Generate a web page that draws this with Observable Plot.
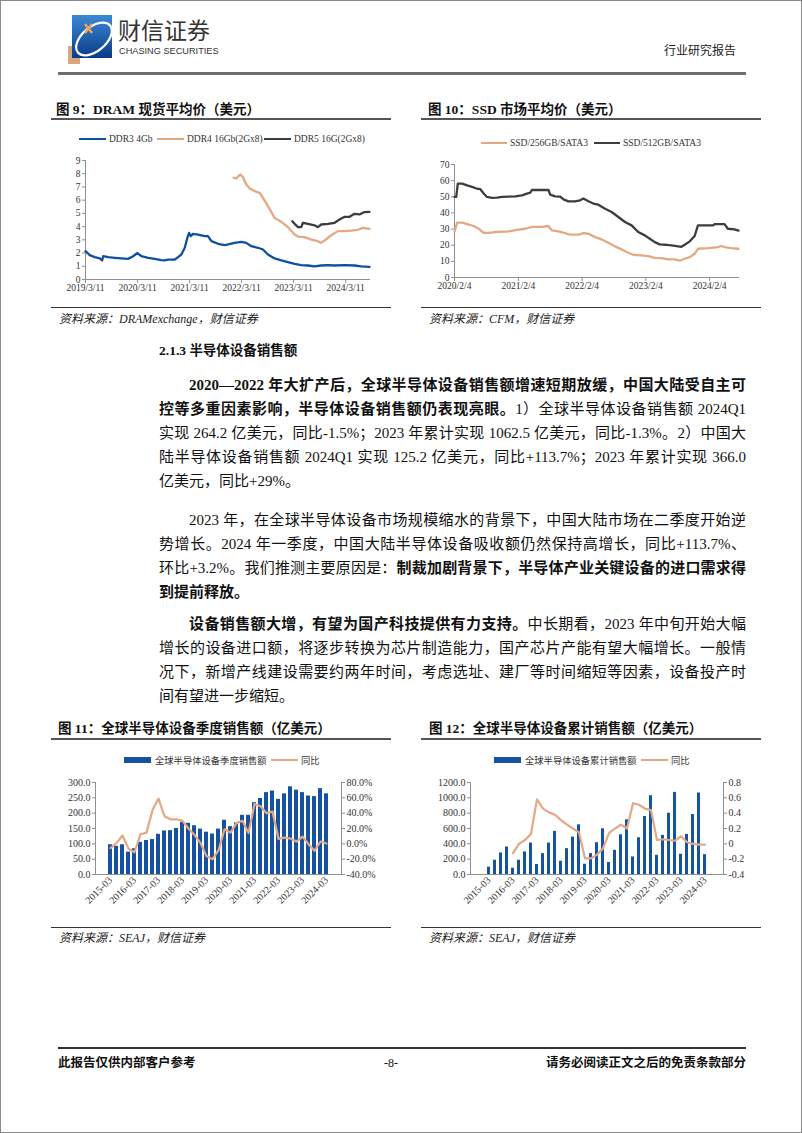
<!DOCTYPE html>
<html><head><meta charset="utf-8">
<script src="https://cdn.jsdelivr.net/npm/d3@7"></script>
<script src="https://cdn.jsdelivr.net/npm/@observablehq/plot@0.6"></script>
<style>
body{margin:0;background:#fff;}
#page{position:relative;width:802px;height:1133px;box-sizing:border-box;border:1px solid #8a8a8a;overflow:hidden;font-family:"Liberation Serif","Noto Sans CJK SC",serif;color:#111;background:#fff;}
.a{position:absolute;white-space:nowrap;}
.ttl{font-weight:bold;font-size:13.5px;line-height:16px;color:#111;}
.uline{position:absolute;height:2px;background:#555;}
.sline{position:absolute;height:1px;background:#333;}
.src{font-style:italic;font-size:12px;line-height:14px;color:#222;}
.ln{position:absolute;left:158px;width:587px;font-size:15px;line-height:20px;text-align:justify;text-align-last:justify;color:#111;}
.ln.ind{left:188px;width:557px;}
.ln.last{text-align:left;text-align-last:left;}
b{font-weight:bold;}
.lg{font-size:9.5px;line-height:12px;color:#333;}
.lgc{font-family:"Noto Sans CJK SC",sans-serif;font-size:9.3px;line-height:12px;color:#333;}
.chart{position:absolute;}
</style></head>
<body>
<div id="page">
  <!-- header -->
  <svg class="a" style="left:67px;top:14px" width="44" height="49">
    <defs><linearGradient id="lg1" x1="0" y1="0" x2="0" y2="1"><stop offset="0" stop-color="#3b8ad6"/><stop offset="1" stop-color="#0a3a88"/></linearGradient></defs>
    <rect x="0" y="31" width="12" height="18" fill="#d8a57f"/>
    <rect x="4" y="0" width="40" height="43" fill="url(#lg1)"/>
    <ellipse cx="26" cy="24" rx="21" ry="12" fill="none" stroke="#fff" stroke-width="2.2" transform="rotate(-40 26 24)"/>
    <path d="M17 9 L24 18 M24 9 L17 18" stroke="#f2a35a" stroke-width="2.4"/>
  </svg>
  <div class="a" style="left:117px;top:15px;font-family:'Noto Sans CJK SC',sans-serif;font-size:23px;line-height:27px;color:#333;">财信证券</div>
  <div class="a" style="left:118px;top:45px;font-family:'Liberation Sans',sans-serif;font-size:9.2px;line-height:11px;color:#333;">CHASING SECURITIES</div>
  <div class="a" style="left:663px;top:41px;font-family:'Noto Sans CJK SC',sans-serif;font-size:12px;line-height:15px;color:#222;">行业研究报告</div>
  <div class="a" style="left:57px;top:71px;width:688px;height:3px;background:#6e6e6e;"></div>

  <!-- chart 9 / 10 titles -->
  <div class="a ttl" style="left:55px;top:101px;">图 9：DRAM 现货平均价（美元）</div>
  <div class="uline" style="left:50px;top:117px;width:340px;"></div>
  <div class="a ttl" style="left:427px;top:101px;">图 10：SSD 市场平均价（美元）</div>
  <div class="uline" style="left:420px;top:117px;width:340px;"></div>

  <div id="c9" class="chart" style="left:50px;top:150px;"></div>
  <div id="c10" class="chart" style="left:420px;top:150px;"></div>

  <div class="sline" style="left:50px;top:306px;width:340px;"></div>
  <div class="a src" style="left:58px;top:311px;">资料来源：DRAMexchange，财信证券</div>
  <div class="sline" style="left:420px;top:306px;width:340px;"></div>
  <div class="a src" style="left:428px;top:311px;">资料来源：CFM，财信证券</div>

  <!-- body text -->
  <div class="a" style="left:158px;top:341px;font-size:13.5px;line-height:18px;font-weight:bold;">2.1.3 半导体设备销售额</div>

  <div class="ln ind" style="top:374px;"><b>2020—2022 年大扩产后，全球半导体设备销售额增速短期放缓，中国大陆受自主可</b></div>
  <div class="ln" style="top:398px;"><b>控等多重因素影响，半导体设备销售额仍表现亮眼。</b>1）全球半导体设备销售额 2024Q1</div>
  <div class="ln" style="top:422px;">实现 264.2 亿美元，同比-1.5%；2023 年累计实现 1062.5 亿美元，同比-1.3%。2）中国大</div>
  <div class="ln" style="top:446px;">陆半导体设备销售额 2024Q1 实现 125.2 亿美元，同比+113.7%；2023 年累计实现 366.0</div>
  <div class="ln last" style="top:470px;">亿美元，同比+29%。</div>

  <div class="ln ind" style="top:509px;">2023 年，在全球半导体设备市场规模缩水的背景下，中国大陆市场在二季度开始逆</div>
  <div class="ln" style="top:533px;">势增长。2024 年一季度，中国大陆半导体设备吸收额仍然保持高增长，同比+113.7%、</div>
  <div class="ln" style="top:557px;">环比+3.2%。我们推测主要原因是：<b>制裁加剧背景下，半导体产业关键设备的进口需求得</b></div>
  <div class="ln last" style="top:581px;"><b>到提前释放。</b></div>

  <div class="ln ind" style="top:613px;"><b>设备销售额大增，有望为国产科技提供有力支持。</b>中长期看，2023 年中旬开始大幅</div>
  <div class="ln" style="top:637px;">增长的设备进口额，将逐步转换为芯片制造能力，国产芯片产能有望大幅增长。一般情</div>
  <div class="ln" style="top:661px;">况下，新增产线建设需要约两年时间，考虑选址、建厂等时间缩短等因素，设备投产时</div>
  <div class="ln last" style="top:685px;">间有望进一步缩短。</div>

  <!-- chart 11 / 12 titles -->
  <div class="a ttl" style="left:57px;top:720px;">图 11：全球半导体设备季度销售额（亿美元）</div>
  <div class="uline" style="left:50px;top:737px;width:340px;"></div>
  <div class="a ttl" style="left:428px;top:720px;">图 12：全球半导体设备累计销售额（亿美元）</div>
  <div class="uline" style="left:420px;top:737px;width:340px;"></div>

  <div id="c11" class="chart" style="left:50px;top:770px;"></div>
  <div id="c12" class="chart" style="left:420px;top:770px;"></div>

  <div class="sline" style="left:50px;top:926px;width:340px;"></div>
  <div class="a src" style="left:58px;top:930px;">资料来源：SEAJ，财信证券</div>
  <div class="sline" style="left:420px;top:926px;width:340px;"></div>
  <div class="a src" style="left:428px;top:930px;">资料来源：SEAJ，财信证券</div>

  <!-- footer -->
  <div class="a" style="left:57px;top:1046px;width:688px;height:2px;background:#333;"></div>
  <div class="a" style="left:57px;top:1055px;font-size:12.5px;line-height:15px;font-weight:bold;">此报告仅供内部客户参考</div>
  <div class="a" style="left:383px;top:1055px;font-size:12px;line-height:15px;">-8-</div>
  <div class="a" style="left:543px;top:1055px;width:202px;text-align:right;font-size:12.5px;line-height:15px;font-weight:bold;">请务必阅读正文之后的免责条款部分</div>
</div>

<script>
// ---------------- Figure 9: DRAM spot average price (USD) ----------------
const ddr3Dates = ["2019-03-11","2019-04-10","2019-05-15","2019-06-19","2019-07-06","2019-07-13","2019-08-17","2019-10-03","2019-11-18","2020-01-04","2020-02-08","2020-03-10","2020-04-07","2020-05-24","2020-07-09","2020-08-25","2020-09-17","2020-10-11","2020-11-27","2020-12-20","2021-01-12","2021-02-05","2021-02-23","2021-03-07","2021-03-19","2021-04-04","2021-05-09","2021-06-25","2021-07-18","2021-08-11","2021-09-27","2021-11-12","2021-12-06","2022-01-21","2022-03-09","2022-04-13","2022-05-18","2022-07-04","2022-08-08","2022-09-12","2022-10-29","2022-12-15","2023-01-30","2023-03-18","2023-05-04","2023-06-20","2023-08-05","2023-09-21","2023-11-07","2023-12-24","2024-03-03","2024-05-12","2024-06-28","2024-08-25"];
const ddr3Values = [2.14,1.84,1.69,1.59,1.44,1.76,1.69,1.64,1.60,1.56,1.76,2.0,1.76,1.64,1.56,1.46,1.44,1.51,1.51,1.69,1.89,2.4,3.15,3.53,3.28,3.45,3.4,3.28,3.28,2.9,2.7,2.6,2.65,2.77,2.85,2.77,2.52,2.4,2.27,1.89,1.59,1.44,1.31,1.18,1.08,1.06,1.0,1.06,1.08,1.06,1.08,1.06,1.0,0.96];
const ddr4Dates = ["2022-01-14","2022-02-02","2022-02-14","2022-03-02","2022-03-21","2022-04-13","2022-05-07","2022-06-11","2022-07-16","2022-08-08","2022-09-12","2022-10-29","2022-12-15","2023-01-30","2023-03-18","2023-04-11","2023-05-27","2023-07-13","2023-08-29","2023-09-17","2023-10-15","2023-11-30","2024-01-16","2024-03-03","2024-04-19","2024-06-05","2024-07-10","2024-08-25"];
const ddr4Values = [7.7,7.64,7.8,7.94,7.74,7.18,6.88,6.68,6.55,6.18,5.55,4.66,4.36,3.96,3.4,3.25,3.2,3.02,2.9,2.77,2.95,3.35,3.66,3.66,3.7,3.76,3.9,3.83];
const ddr5Dates = ["2023-03-02","2023-03-18","2023-04-11","2023-05-04","2023-05-16","2023-06-20","2023-08-05","2023-08-29","2023-09-21","2023-11-07","2023-12-24","2024-01-28","2024-03-03","2024-04-07","2024-05-12","2024-06-16","2024-07-21","2024-08-25"];
const ddr5Values = [4.41,4.21,3.96,3.96,4.29,4.21,4.1,3.96,4.16,4.21,4.29,4.54,4.74,4.74,4.97,4.92,5.1,5.12];
const dramSeries = ["DDR3 4Gb","DDR4 16Gb(2Gx8)","DDR5 16G(2Gx8)"];
const dramXTicks = ["2019-03-11","2020-03-11","2021-03-11","2022-03-11","2023-03-11","2024-03-11"];
const dramYTicks = [0,1,2,3,4,5,6,7,8,9];

// ---------------- Figure 10: SSD market average price (USD) ----------------
const ssd512Dates = ["2020-02-04","2020-02-14","2020-02-23","2020-03-19","2020-04-16","2020-05-15","2020-06-12","2020-07-01","2020-07-20","2020-08-08","2020-09-06","2020-10-04","2020-11-02","2020-12-10","2021-01-17","2021-02-24","2021-03-25","2021-04-13","2021-04-22","2021-06-18","2021-07-26","2021-08-05","2021-09-02","2021-10-01","2021-10-20","2021-11-17","2021-12-25","2022-01-23","2022-02-11","2022-03-12","2022-04-09","2022-05-08","2022-06-15","2022-07-23","2022-08-30","2022-10-07","2022-11-14","2022-12-22","2023-01-29","2023-02-26","2023-03-27","2023-04-24","2023-05-23","2023-06-30","2023-07-29","2023-08-26","2023-09-14","2023-10-13","2023-11-10","2023-11-29","2024-01-06","2024-02-23","2024-03-03","2024-04-29","2024-05-18","2024-06-25","2024-07-18"];
const ssd512Values = [49.9,50,58.2,58.2,57.1,56.1,55,54.7,52,49.9,49.3,49.5,49.9,50.1,50.3,50.9,52,52.6,54.2,54.2,54.2,51.3,50.3,50.1,48.4,47.2,47.2,47.8,48.9,47.2,45.8,45.1,42.6,40.6,37.5,34.4,32.3,28.2,26.1,24,21.9,20.5,20.3,19.9,19.5,19,20.3,22.4,25.7,32.3,32.3,32.3,33.1,33.1,30.2,29.8,29];
const ssd256Dates = ["2020-02-04","2020-02-19","2020-03-19","2020-04-26","2020-05-24","2020-06-22","2020-07-20","2020-08-27","2020-09-25","2020-12-10","2021-02-05","2021-03-15","2021-04-22","2021-06-18","2021-07-26","2021-08-14","2021-09-21","2021-10-29","2021-11-27","2022-01-13","2022-02-11","2022-03-12","2022-04-19","2022-05-27","2022-07-04","2022-08-11","2022-09-18","2022-10-26","2022-11-23","2023-01-10","2023-02-17","2023-03-27","2023-05-04","2023-06-11","2023-07-19","2023-08-17","2023-09-14","2023-10-13","2023-11-10","2023-11-29","2024-01-25","2024-03-22","2024-04-10","2024-04-29","2024-06-06","2024-07-18"];
const ssd256Values = [28.2,34,34,32.7,31.9,30.2,27.7,27.7,28.2,28.6,29.6,30.2,31.3,31.3,31.9,29.2,28.6,27.5,26.5,26.5,27.5,27.1,25,23.6,21.5,19.3,17.4,15.3,14.1,13.7,13.3,12.2,12,11.2,11.2,10.4,11.6,12.6,14.7,17.8,18.2,18.8,19.5,18.8,18.2,17.8];
const ssdSeries = ["SSD/256GB/SATA3","SSD/512GB/SATA3"];
const ssdXTicks = ["2020-02-04","2021-02-04","2022-02-04","2023-02-04","2024-02-04"];
const ssdYTicks = [0,10,20,30,40,50,60,70];

// ---------------- Figure 11 / 12: SEAJ semiconductor equipment sales ----------------
const quarters = ["2015-03","2015-06","2015-09","2015-12","2016-03","2016-06","2016-09","2016-12","2017-03","2017-06","2017-09","2017-12","2018-03","2018-06","2018-09","2018-12","2019-03","2019-06","2019-09","2019-12","2020-03","2020-06","2020-09","2020-12","2021-03","2021-06","2021-09","2021-12","2022-03","2022-06","2022-09","2022-12","2023-03","2023-06","2023-09","2023-12","2024-03"];
const quarterSales = [97,92,97,73,84,105,111,114,131,142,143,150,170,167,159,148,138,132,148,177,156,168,193,193,234,248,267,272,245,263,286,275,267,256,254,280,263];
const quarterYoY = [-5.6,0.9,10.8,-6.5,-11,12.5,14.6,44,59,36,32,32,30,20,11.6,1,-16,-20,-8.6,19,14.6,27,30,14,52,49,40,42,6.5,8,7,3,9.5,-0.4,-9,3,0.4];
const cumSales = [95,186,281,359,82,186,294,410,130,272,410,562,173,337,488,648,134,272,415,596,156,315,518,713,229,479,756,1028,250,510,799,1071,264,523,782,1063,259];
const cumYoY = [null,null,null,null,-0.12,0.0,0.05,0.13,0.58,0.46,0.41,0.38,0.31,0.25,0.20,0.15,-0.19,-0.19,-0.14,-0.06,0.14,0.20,0.25,0.20,0.53,0.51,0.46,0.44,0.05,0.06,0.05,0.04,0.10,0.02,0.0,-0.01,-0.01];
const qLabels = ["2015-03","2016-03","2017-03","2018-03","2019-03","2020-03","2021-03","2022-03","2023-03","2024-03"];
const q11LeftTicks = [0,50,100,150,200,250,300];
const q12LeftTicks = [0,200,400,600,800,1000,1200];
const legend11 = ["全球半导体设备季度销售额","同比"];
const legend12 = ["全球半导体设备累计销售额","同比"];

// colours
const BLUE = "#0f4f9f", TAN = "#e4a882", DARK = "#3d3d3d", BAR = "#1652a2", AXIS = "#8f8f8f";

const toRows = (dates, vals) => dates.map((d, i) => ({date: new Date(d + "T00:00:00Z"), v: vals[i]}));
const fmtDate = d => `${d.getUTCFullYear()}/${d.getUTCMonth() + 1}/${d.getUTCDate()}`;
const baseStyle = {fontFamily: "'Liberation Serif', serif", fontSize: "9.5px", color: "#333", background: "none", overflow: "visible"};

const page = document.getElementById("page");
function legendLine(x, y, w, color, thick) {
  const d = document.createElement("div");
  d.className = "a";
  d.style.cssText = `left:${x}px;top:${y - thick / 2}px;width:${w}px;height:${thick}px;background:${color};`;
  page.appendChild(d);
}
function legendRect(x, y, w, h, color) {
  const d = document.createElement("div");
  d.className = "a";
  d.style.cssText = `left:${x}px;top:${y - h / 2}px;width:${w}px;height:${h}px;background:${color};`;
  page.appendChild(d);
}
function legendText(x, y, txt, cls) {
  const d = document.createElement("div");
  d.className = "a " + cls;
  d.style.left = x + "px"; d.style.top = (y - 6) + "px";
  d.textContent = txt;
  page.appendChild(d);
}

// ----- chart 9
legendLine(78, 138, 27, BLUE, 2.5); legendText(108, 138, dramSeries[0], "lg");
legendLine(156, 138, 27, TAN, 2.5); legendText(186, 138, dramSeries[1], "lg");
legendLine(263, 138, 27, DARK, 2.5); legendText(293, 138, dramSeries[2], "lg");

const c9 = Plot.plot({
  width: 340, height: 150, marginTop: 9, marginBottom: 22, marginLeft: 34, marginRight: 22,
  style: baseStyle,
  x: {type: "utc", domain: [new Date("2019-03-11T00:00:00Z"), new Date("2024-08-25T00:00:00Z")]},
  y: {domain: [0, 9]},
  marks: [
    Plot.frame({anchor: "left", stroke: AXIS}),
    Plot.frame({anchor: "bottom", stroke: AXIS}),
    Plot.axisY({ticks: dramYTicks, tickSize: 3, tickPadding: 2, label: null, stroke: AXIS}),
    Plot.axisX({ticks: dramXTicks.map(d => new Date(d + "T00:00:00Z")), tickFormat: fmtDate, tickSize: 4, tickPadding: 1, label: null, stroke: AXIS}),
    Plot.line(toRows(ddr3Dates, ddr3Values), {x: "date", y: "v", stroke: BLUE, strokeWidth: 2.3}),
    Plot.line(toRows(ddr4Dates, ddr4Values), {x: "date", y: "v", stroke: TAN, strokeWidth: 2.3}),
    Plot.line(toRows(ddr5Dates, ddr5Values), {x: "date", y: "v", stroke: DARK, strokeWidth: 2.3})
  ]
});
document.getElementById("c9").appendChild(c9);

// ----- chart 10
legendLine(480, 142, 26, TAN, 2.5); legendText(509, 142, ssdSeries[0], "lg");
legendLine(593, 142, 26, DARK, 2.5); legendText(622, 142, ssdSeries[1], "lg");

const c10 = Plot.plot({
  width: 340, height: 150, marginTop: 13, marginBottom: 24, marginLeft: 33, marginRight: 23,
  style: baseStyle,
  x: {type: "utc", domain: [new Date("2020-02-04T00:00:00Z"), new Date("2024-07-18T00:00:00Z")]},
  y: {domain: [0, 70]},
  marks: [
    Plot.frame({anchor: "left", stroke: AXIS}),
    Plot.frame({anchor: "bottom", stroke: AXIS}),
    Plot.axisY({ticks: ssdYTicks, tickSize: 3, tickPadding: 2, label: null, stroke: AXIS}),
    Plot.axisX({ticks: ssdXTicks.map(d => new Date(d + "T00:00:00Z")), tickFormat: fmtDate, tickSize: 4, tickPadding: 1, label: null, stroke: AXIS}),
    Plot.line(toRows(ssd256Dates, ssd256Values), {x: "date", y: "v", stroke: TAN, strokeWidth: 2.3}),
    Plot.line(toRows(ssd512Dates, ssd512Values), {x: "date", y: "v", stroke: DARK, strokeWidth: 2.3})
  ]
});
document.getElementById("c10").appendChild(c10);

// ----- chart 11
legendRect(123, 759, 27, 6, BAR); legendText(154, 759, legend11[0], "lgc");
legendLine(270, 759, 27, TAN, 2.3); legendText(300, 759, legend11[1], "lgc");

const rows11 = quarters.map((q, i) => ({q, v: quarterSales[i], yoy: quarterYoY[i]}));
const c11 = Plot.plot({
  width: 340, height: 150, marginTop: 11, marginBottom: 47, marginLeft: 44, marginRight: 50,
  style: {...baseStyle, fontSize: "10px"},
  x: {type: "band", domain: quarters, paddingInner: 0.38, paddingOuter: 0.3},
  y: {domain: [0, 300]},
  marks: [
    Plot.barY(rows11, {x: "q", y: "v", fill: BAR}),
    Plot.frame({anchor: "left", stroke: AXIS}),
    Plot.frame({anchor: "right", stroke: AXIS}),
    Plot.frame({anchor: "bottom", stroke: AXIS}),
    Plot.axisY({ticks: q11LeftTicks, tickFormat: v => v.toFixed(1), tickSize: 3, tickPadding: 2, label: null, stroke: AXIS}),
    Plot.axisY({anchor: "right", ticks: q11LeftTicks, tickFormat: v => ((v / 250 - 0.4) * 100).toFixed(1) + "%", tickSize: 3, tickPadding: 2, label: null, stroke: AXIS}),
    Plot.axisX({ticks: qLabels, tickRotate: -45, tickSize: 0, tickPadding: 4, label: null}),
    Plot.line(rows11, {x: "q", y: d => (d.yoy / 100 + 0.4) * 250, stroke: TAN, strokeWidth: 2.2})
  ]
});
document.getElementById("c11").appendChild(c11);

// ----- chart 12
legendRect(493, 759, 27, 6, BAR); legendText(524, 759, legend12[0], "lgc");
legendLine(640, 759, 27, TAN, 2.3); legendText(670, 759, legend12[1], "lgc");

const rows12 = quarters.map((q, i) => ({q, v: cumSales[i], yoy: cumYoY[i]}));
const c12 = Plot.plot({
  width: 340, height: 150, marginTop: 11, marginBottom: 47, marginLeft: 49, marginRight: 38,
  style: {...baseStyle, fontSize: "10px"},
  x: {type: "band", domain: quarters, paddingInner: 0.42, paddingOuter: 0.3},
  y: {domain: [0, 1200]},
  marks: [
    Plot.barY(rows12, {x: "q", y: "v", fill: BAR}),
    Plot.frame({anchor: "left", stroke: AXIS}),
    Plot.frame({anchor: "right", stroke: AXIS}),
    Plot.frame({anchor: "bottom", stroke: AXIS}),
    Plot.axisY({ticks: q12LeftTicks, tickFormat: v => v.toFixed(1), tickSize: 3, tickPadding: 2, label: null, stroke: AXIS}),
    Plot.axisY({anchor: "right", ticks: q12LeftTicks, tickFormat: v => { const r = Math.round((v / 1000 - 0.4) * 10) / 10; return r === 0 ? "0" : r.toFixed(1); }, tickSize: 3, tickPadding: 2, label: null, stroke: AXIS}),
    Plot.axisX({ticks: qLabels, tickRotate: -45, tickSize: 0, tickPadding: 4, label: null}),
    Plot.line(rows12.filter(d => d.yoy !== null), {x: "q", y: d => (d.yoy + 0.4) * 1000, stroke: TAN, strokeWidth: 2.2})
  ]
});
document.getElementById("c12").appendChild(c12);
</script>
</body></html>
